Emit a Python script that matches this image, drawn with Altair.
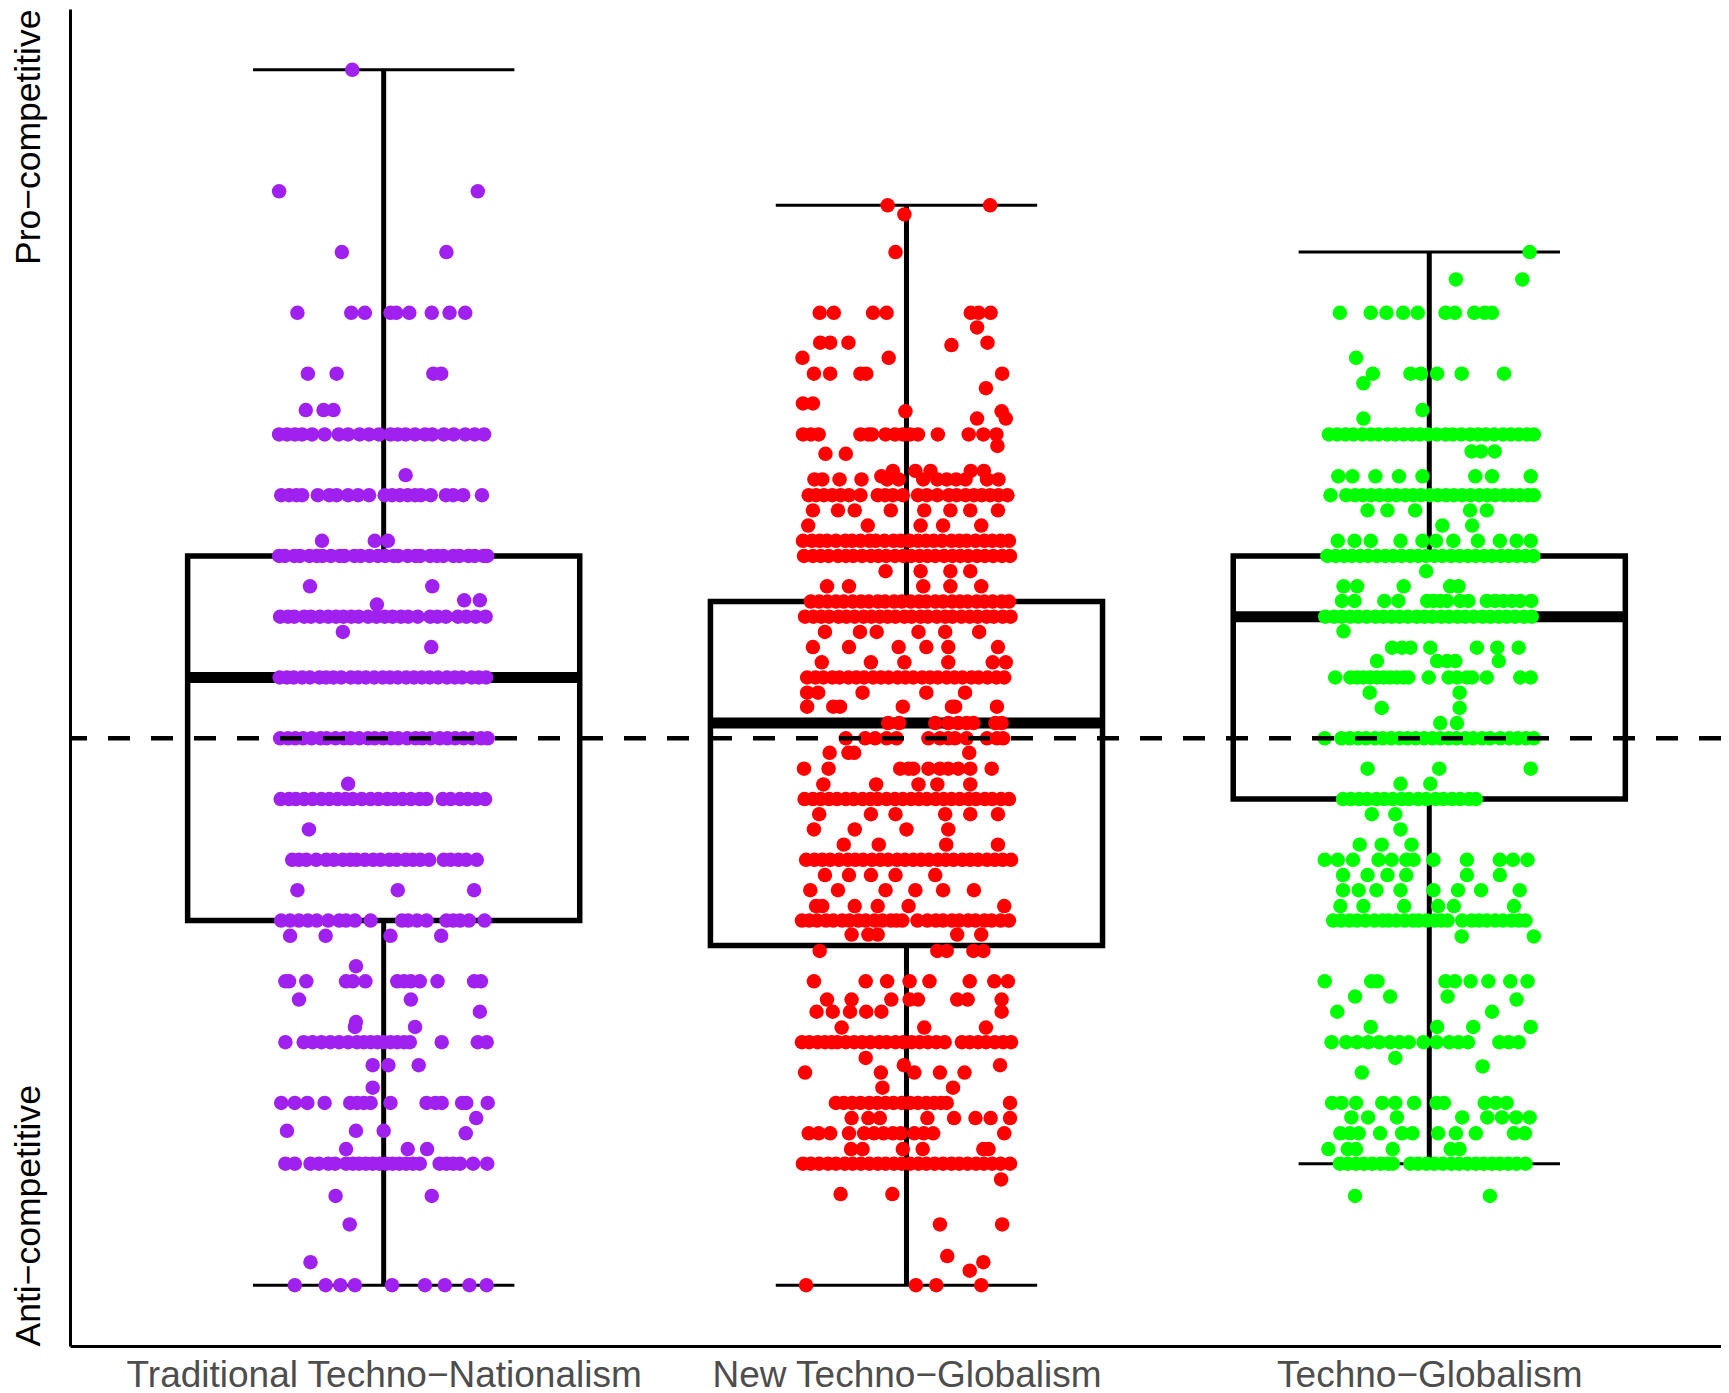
import json
import altair as alt
import pandas as pd

# ---------------- data ----------------
CATEGORIES = ["Traditional Techno−Nationalism", "New Techno−Globalism", "Techno−Globalism"]
COLORS = ["#A020F0", "#FF0000", "#00FF00"]
Y_LABELS = ["Anti−competitive", "Pro−competitive"]   # bottom, top of the scale
REFERENCE_LEVEL = [0]

# box statistics per category
BOX_LOW = [-9, -9, -7]
BOX_Q1 = [-3, -3.41, -1]
BOX_MED = [1, 0.25, 2]
BOX_Q3 = [3, 2.25, 3]
BOX_HIGH = [11, 8.77, 8]

# jittered points: score levels and horizontal jitter (hundredths of a category step)
TRAD_LEVELS = [11, 9, 8, 7, 6, 5.4, 5, 4.33, 4, 3.25, 3, 2.5, 2.27, 2.2, 2, 1.75, 1.5, 1, 0,
               -0.75, -1, -1.5, -2, -2.5, -3, -3.25, -3.75, -4, -4.3, -4.5, -4.67, -4.75, -5,
               -5.38, -5.75, -6, -6.25, -6.46, -6.5, -6.76, -7, -7.53, -8, -8.62, -9]
TRAD_OFFSETS = [
    [-6], [-20, 18], [-8, 12],
    [-16.5, -6.2, -3.6, 1.3, 2.4, 4.9, 9.2, 12.6, 15.6],
    [-14.5, -9.0, 9.5, 11.0],
    [-14.9, -11.5, -9.6],
    [-20.0, -18.5, -17.0, -15.6, -13.7, -11.3, -8.6, -6.8, -4.6, -2.8, -0.9, 1.3, 2.7, 4.2, 6.0, 7.9, 9.3, 11.5, 13.4, 15.6, 17.4, 19.2],
    [4.2],
    [-19.6, -18.1, -16.7, -15.6, -12.6, -10.4, -9.0, -6.8, -4.9, -2.8, 0.2, 1.6, 3.1, 4.6, 6.0, 7.1, 9.0, 11.9, 13.3, 15.2, 18.8],
    [-11.8, -1.7, 0.8],
    [-20.0, -18.9, -17.1, -16.0, -14.2, -12.8, -11.7, -10.1, -8.4, -7.5, -5.6, -4.4, -2.7, -1.1, 0.3, 1.9, 2.8, 4.6, 6.1, 7.0, 8.9, 10.2, 11.4, 13.3, 14.5, 16.2, 17.4, 19.1, 19.8],
    [-14.1, 9.3],
    [15.4, 18.4],
    [-1.3],
    [-19.8, -18.3, -17.1, -15.2, -13.9, -12.2, -10.6, -9.1, -7.7, -6.2, -4.8, -3.0, -1.4, 0.2, 1.7, 3.3, 4.7, 6.5, 8.9, 10.3, 11.9, 14.2, 15.8, 17.6, 19.5],
    [-7.8], [9.1],
    [-19.9, -18.5, -17.2, -15.6, -14.1, -12.3, -11.0, -9.6, -8.1, -6.3, -4.9, -3.4, -1.8, -0.2, 1.2, 2.7, 4.3, 5.8, 7.3, 8.8, 10.4, 12.1, 13.6, 15.0, 16.8, 18.2, 19.6],
    [-19.8, -18.3, -16.9, -15.4, -13.8, -12.1, -10.9, -9.2, -7.6, -6.3, -4.7, -3.0, -1.7, -0.1, 1.4, 2.8, 4.5, 6.1, 7.4, 9.0, 10.7, 12.2, 13.7, 15.3, 17.0, 18.6, 19.9],
    [-6.8],
    [-19.7, -18.1, -16.8, -15.2, -13.6, -11.9, -10.4, -8.8, -7.3, -5.9, -4.2, -2.5, -1.0, 0.7, 2.1, 3.6, 5.2, 6.9, 8.2, 11.3, 12.8, 14.6, 16.1, 17.7, 19.4],
    [-14.3],
    [-17.5, -16.2, -14.8, -12.9, -11.0, -9.5, -7.8, -6.4, -5.2, -3.6, -2.0, -0.6, 1.1, 2.5, 4.2, 5.6, 7.0, 8.7, 11.5, 12.8, 14.3, 15.8, 17.8],
    [-16.5, 2.7, 17.3],
    [-19.6, -17.9, -16.2, -14.5, -12.8, -10.6, -8.5, -7.2, -5.5, -2.5, 3.5, 4.7, 6.4, 8.2, 12.0, 13.3, 14.6, 16.3, 19.3],
    [-17.9, -11.1, 1.3, 11.0],
    [-5.3],
    [-18.8, -18.1, -14.8, -7.2, -5.9, -3.5, 2.6, 3.9, 5.2, 6.9, 10.3, 17.3, 18.6],
    [-16.2, 5.2],
    [18.4],
    [-5.3],
    [-5.5, 6.0],
    [-18.8, -15.3, -13.6, -11.9, -10.2, -8.5, -6.8, -5.1, -3.8, -2.5, -1.2, 0, 1.3, 2.6, 3.9, 5.0, 11.1, 18.0, 19.7],
    [-2.1, 0.9, 6.7],
    [-2.1],
    [-19.6, -17.0, -14.6, -11.3, -6.4, -5.1, -3.8, -2.5, 1.3, 8.2, 9.9, 11.1, 15.0, 15.8, 19.9],
    [17.7],
    [-18.5, -5.3, 0],
    [15.7],
    [-7.2, 4.6, 8.3],
    [-18.8, -17.0, -14.0, -12.4, -10.6, -9.3, -7.2, -5.9, -4.7, -3.4, -2.1, -0.8, 0.5, 1.7, 3.0, 4.3, 5.6, 6.9, 10.7, 12.0, 13.3, 14.6, 17.1, 19.8],
    [-9.2, 9.2],
    [-6.5],
    [-14.0],
    [-17.0, -11.1, -8.3, -5.5, 1.6, 7.9, 11.7, 16.4, 19.7],
]

NEW_LEVELS = [8.77, 8.62, 8, 7, 6.76, 6.51, 6.47, 6.26, 6, 5.76, 5.51, 5.38, 5.26, 5, 4.81,
              4.68, 4.4, 4.31, 4.26, 4, 3.75, 3.5, 3.25, 3, 2.75, 2.5, 2.25, 2, 1.75, 1.5,
              1.25, 1, 0.75, 0.52, 0.25, 0, -0.24, -0.5, -0.76, -1, -1.25, -1.5, -1.75, -2,
              -2.25, -2.5, -2.76, -3, -3.23, -3.5, -4, -4.3, -4.5, -4.76, -5, -5.26, -5.38,
              -5.5, -5.75, -6, -6.25, -6.5, -6.76, -7, -7.26, -7.5, -8, -8.52, -8.62, -8.76, -9]
NEW_OFFSETS = [
    [-3.6, 16.0], [-0.4], [-2.1],
    [-16.6, -13.9, -6.4, -3.8, 12.3, 13.8, 16.1],
    [13.5],
    [-16.5, -14.6, -11.1, 15.5],
    [8.6],
    [-19.9, -3.4],
    [-17.7, -14.6, -8.8, -7.7, 18.3],
    [15.2],
    [-19.8, -17.9],
    [-0.2, 18.2],
    [13.5, 19.0],
    [-19.8, -18.3, -16.8, -8.8, -7.3, -6.6, -4.0, -2.2, -0.7, 0.7, 2.2, 6.0, 11.9, 14.7, 17.2],
    [17.4],
    [-15.5, -11.6],
    [-2.6, 1.7, 4.6, 12.3, 14.8],
    [-4.8],
    [-17.6, -16.1, -12.8, -8.6, -3.7, -1.5, 3.2, 5.9, 7.7, 9.5, 11.3, 15.4, 17.6],
    [-18.7, -17.3, -15.8, -14.2, -12.6, -11.0, -8.8, -5.5, -4.1, -2.6, -0.7, 2.2, 3.9, 5.9, 8.1, 9.6, 11.3, 12.9, 14.4, 16.0, 17.6, 19.3],
    [-17.9, -13.1, -9.9, -3.0, 3.4, 8.4, 12.2, 17.5],
    [-18.8, -7.4, 2.7, 7.0, 14.3],
    [-19.8, -18.1, -16.6, -15.2, -13.5, -11.7, -10.4, -8.8, -7.1, -5.9, -4.2, -2.5, -1.1, 0.6, 2.2, 3.7, 5.2, 6.8, 8.6, 10.1, 11.5, 13.2, 14.9, 16.4, 18.0, 19.6],
    [-19.6, -17.9, -16.4, -14.9, -13.1, -11.6, -10.2, -8.5, -6.8, -5.4, -3.9, -2.2, -0.6, 0.9, 2.5, 4.0, 5.5, 7.2, 8.8, 10.3, 11.8, 13.5, 15.0, 16.6, 18.3, 19.8],
    [-4.0, 2.7, 8.4, 12.2],
    [-15.2, -11.0, 3.2, 8.4, 14.3],
    [-18.3, -16.7, -15.1, -13.5, -12.0, -10.3, -8.7, -7.2, -5.5, -4.1, -2.4, -0.9, 0.8, 2.4, 3.8, 5.5, 7.0, 8.7, 10.2, 11.7, 13.4, 14.9, 16.5, 18.2, 19.6],
    [-19.4, -17.8, -16.3, -14.8, -13.0, -11.5, -9.9, -8.2, -6.7, -5.1, -3.6, -2.1, -0.4, 1.0, 2.7, 4.1, 5.8, 7.4, 8.8, 10.5, 12.1, 13.6, 15.3, 16.7, 18.4, 19.9],
    [-15.6, -8.9, -5.7, 2.3, 7.4, 13.9],
    [-17.9, -11.0, -1.5, 3.8, 8.0, 17.5],
    [-16.2, -6.8, -0.4, 8.0, 16.5, 19.0],
    [-19.0, -17.4, -15.9, -14.2, -12.8, -11.1, -9.6, -8.1, -6.4, -4.9, -3.4, -1.7, -0.2, 1.3, 3.0, 4.5, 6.0, 7.7, 9.2, 10.7, 12.4, 13.8, 15.5, 17.2, 18.7],
    [-19.0, -16.9, -8.4, 3.8, 11.2],
    [-19.0, -14.0, -12.7, -0.7, 8.7, 9.3, 17.3],
    [-3.5, -1.4, 5.5, 8.0, 9.9, 11.5, 12.8, 17.0, 18.2],
    [-11.6, -7.9, -6.0, -3.8, -1.9, 4.2, 6.4, 8.0, 9.3, 11.5, 15.4, 17.3, 18.5],
    [-14.7, -11.1, -10.0, 12.0],
    [-19.6, -14.9, -1.2, 0.4, 1.3, 4.2, 6.4, 8.0, 9.9, 12.2, 16.3],
    [-15.9, -5.8, 2.3, 5.9, 12.2],
    [-19.5, -17.9, -16.4, -14.8, -13.3, -11.6, -10.1, -8.4, -6.9, -5.5, -3.8, -2.2, -0.7, 0.9, 2.4, 3.9, 5.6, 7.1, 8.6, 10.2, 11.9, 13.3, 15.0, 16.4, 18.1, 19.6],
    [-16.7, -6.8, -2.1, 7.4, 12.2, 17.5],
    [-17.7, -9.9, 0.0, 8.0],
    [-12.0, -5.3, 7.6, 17.5],
    [-19.2, -17.6, -16.1, -14.6, -12.9, -11.2, -9.8, -8.3, -6.6, -5.0, -3.5, -1.8, -0.3, 1.3, 2.8, 4.3, 6.0, 7.5, 9.0, 10.7, 12.2, 13.7, 15.4, 16.9, 18.4, 20.0],
    [-15.6, -11.0, -6.8, -2.1, 5.5],
    [-18.4, -13.1, -4.0, 1.7, 7.0, 12.9],
    [-17.3, -16.1, -9.9, -5.5, 0.4, 18.7],
    [-20.0, -18.6, -17.1, -15.4, -14.0, -12.3, -10.9, -9.2, -7.8, -6.1, -4.6, -3.0, -1.9, -0.8, 2.1, 4.0, 5.6, 7.0, 8.7, 10.1, 11.8, 13.2, 14.9, 16.3, 18.0, 19.6],
    [-10.5, -7.3, -5.5, 9.7, 14.3],
    [-16.6, 5.9, 7.7, 12.8, 14.7],
    [-17.7, -7.8, -3.7, 0.6, 4.4, 12.1, 16.8, 19.4],
    [-15.2, -10.5, -2.9, 0.6, 2.2, 9.7, 11.7, 18.2],
    [-17.2, -14.1, -10.8, -7.7, -4.8, 18.2],
    [-12.4, 3.4, 15.2],
    [-20.0, -18.6, -17.0, -15.6, -14.3, -13.2, -11.6, -10.0, -8.5, -6.9, -5.2, -3.8, -2.1, -0.6, 1.0, 2.5, 4.1, 5.7, 7.3, 10.6, 12.1, 13.7, 15.2, 16.9, 18.5, 20.0],
    [-7.8],
    [-0.5, 17.9],
    [-19.4, -4.9, 1.5, 6.4, 11.1],
    [-4.6, 8.9],
    [-13.5, -12.0, -10.4, -8.8, -7.1, -5.6, -4.0, -2.5, -0.9, 0.7, 2.2, 3.8, 5.3, 6.6, 7.7, 19.8],
    [-10.5, -7.3, -5.1, 4.0, 9.1, 13.2, 16.1, 19.8],
    [-18.7, -16.8, -14.6, -11.0, -8.1, -6.2, -4.4, -2.6, -1.1, 1.5, 3.3, 5.1, 18.7],
    [-10.6, -8.4, -0.7, 3.1, 14.7, 15.7],
    [-19.8, -18.3, -16.7, -15.0, -13.5, -11.8, -10.3, -8.7, -7.1, -5.5, -4.0, -2.4, -0.9, 0.7, 2.3, 3.8, 5.4, 7.0, 8.6, 10.1, 11.7, 13.3, 14.8, 16.4, 18.0, 19.8],
    [18.1],
    [-12.6, -2.7],
    [6.4, 18.3],
    [7.8],
    [14.7],
    [12.1],
    [-19.2, 1.8, 5.7, 14.3],
]

TG_LEVELS = [8, 7.55, 7, 6.26, 6, 5.84, 5.4, 5.26, 5, 4.72, 4.31, 4, 3.75, 3.5, 3.25, 3, 2.75,
             2.5, 2.26, 2, 1.76, 1.49, 1.27, 1, 0.75, 0.5, 0.25, 0, -0.5, -0.75, -1, -1.25,
             -1.5, -1.75, -2, -2.25, -2.5, -2.76, -3, -3.26, -4, -4.25, -4.3, -4.5, -4.75, -5,
             -5.26, -5.4, -5.5, -6, -6.24, -6.5, -6.76, -7, -7.53]
TG_OFFSETS = [
    [19.2],
    [5.1, 17.8],
    [-17.1, -11.2, -8.2, -5.0, -2.2, 3.1, 4.9, 8.6, 10.6, 12.0],
    [-14.0],
    [-10.8, -3.6, -1.6, 1.5, 6.2, 14.3],
    [-12.6],
    [-1.3],
    [-12.6],
    [-19.2, -17.6, -16.0, -14.5, -12.8, -11.2, -9.7, -8.0, -6.5, -4.9, -3.3, -1.8, -0.2, 1.4, 3.1, 4.5, 6.1, 7.8, 9.3, 10.8, 12.4, 14.1, 15.6, 17.1, 18.7, 20.0],
    [8.1, 9.9, 12.5],
    [-17.4, -14.7, -10.3, -5.8, -1.3, 8.8, 12.0, 19.4],
    [-18.9, -15.9, -14.2, -12.7, -11.1, -9.5, -7.8, -6.3, -4.6, -3.1, -1.6, 0.1, 1.6, 3.2, 4.7, 6.3, 7.9, 9.6, 11.1, 12.6, 14.3, 15.8, 17.3, 18.9, 20.0],
    [-11.8, -8.0, -2.7, 7.8, 11.0],
    [2.5, 8.2],
    [-17.5, -14.3, -11.2, -5.5, -1.3, 1.3, 4.6, 9.3, 13.5, 16.7, 19.4],
    [-19.5, -17.9, -16.3, -14.8, -13.2, -11.7, -10.0, -8.4, -6.9, -5.3, -3.6, -2.1, -0.6, 1.0, 2.5, 4.2, 5.8, 7.4, 8.9, 10.5, 12.0, 13.7, 15.2, 16.8, 18.4, 19.9],
    [-0.6],
    [-16.4, -13.8, -4.9, 4.0, 5.6],
    [-16.7, -14.3, -8.6, -5.9, -0.4, 0.8, 2.1, 3.4, 5.9, 7.5, 11.0, 12.6, 14.2, 15.8, 17.4, 19.5],
    [-19.9, -18.2, -16.7, -15.1, -13.6, -12.0, -10.3, -8.8, -7.2, -5.7, -4.1, -2.4, -0.9, 0.6, 2.3, 3.8, 5.4, 6.9, 8.5, 10.2, 11.7, 13.3, 14.8, 16.4, 18.1, 19.6],
    [-16.4],
    [-7.1, -5.2, -3.6, 0.2, 9.1, 13.0, 17.1],
    [-10.0, 1.5, 3.4, 5.0, 13.3],
    [-18.0, -15.1, -13.8, -12.6, -11.3, -10.0, -8.7, -7.5, -6.2, -4.9, -4.0, -0.1, 3.7, 5.3, 7.2, 8.2, 11.0, 17.4, 19.4],
    [-11.4, 5.8],
    [-9.1, 5.8],
    [2.1, 5.3],
    [-20.0, -16.8, -15.2, -13.6, -12.1, -10.4, -8.9, -7.3, -5.7, -4.2, -2.6, -1.0, 0.6, 2.1, 3.7, 5.2, 6.9, 8.4, 10.1, 11.6, 13.6, 15.3, 16.9, 18.5, 20.0],
    [-11.8, 1.9, 19.4],
    [-5.5, 0.2],
    [-16.5, -15.0, -13.4, -11.9, -10.1, -8.6, -7.0, -5.3, -3.9, -2.1, -0.6, 1.2, 2.7, 4.4, 5.9, 7.6, 8.9],
    [-11.0, -6.5],
    [-5.5],
    [-13.3, -9.1, -3.4],
    [-20.0, -17.5, -14.6, -9.7, -7.2, -4.4, -3.0, 0.8, 7.2, 13.5, 16.0, 18.8],
    [-16.5, -11.8, -8.0, -4.4, 7.2, 13.5],
    [-16.5, -13.5, -10.1, -5.5, 0.8, 5.5, 9.9, 17.3],
    [-17.0, -12.6, -4.8, 1.7, 4.7, 16.2],
    [-18.4, -16.9, -15.3, -13.8, -12.2, -10.5, -8.9, -7.8, -6.3, -4.7, -3.1, -2.0, -0.5, 1.0, 2.3, 3.5, 6.3, 8.1, 9.5, 11.0, 12.6, 14.1, 15.7, 17.1, 18.4],
    [6.2, 20.0],
    [-20.0, -11.1, -9.9, 3.1, 4.9, 7.9, 11.3, 15.5, 18.8],
    [-14.2, -7.5, 3.5],
    [16.7],
    [-17.6, 12.0],
    [-11.2, 1.5, 8.4, 19.4],
    [-18.7, -15.9, -13.8, -11.7, -9.6, -7.5, -5.7, -3.9, -1.1, 1.4, 3.8, 5.6, 7.4, 13.4, 15.2, 17.1],
    [-6.5],
    [10.2],
    [-12.9],
    [-18.6, -16.8, -14.0, -9.0, -6.5, -2.9, 1.4, 2.8, 10.6, 12.7, 14.8],
    [-14.9, -11.7, -6.2, 6.3, 11.1, 13.9, 16.6, 19.2],
    [-17.0, -15.2, -13.5, -9.4, -5.2, -3.2, 1.7, 5.1, 8.9, 16.2, 18.3],
    [-19.3, -15.6, -14.0, -7.0, 4.1, 5.8],
    [-17.1, -15.6, -14.0, -12.5, -10.9, -9.3, -7.9, -7.0, -3.6, -2.1, -0.5, 1.0, 2.6, 4.2, 5.7, 7.3, 8.9, 10.4, 12.0, 13.5, 15.1, 16.7, 18.4],
    [-14.2, 11.6],
]

# ---------------- style constants ----------------
BOX_HALF = 0.375     # half box width (category units)
CAP_HALF = 0.25      # half whisker-cap width
X_DOMAIN = [0.4, 3.558]
Y_DOMAIN = [-10, 12]
LABEL_FONT = "Liberation Sans, Arial, Helvetica, sans-serif"

# ---------------- tables ----------------
rows = []
for gi, (levels, offsets) in enumerate([(TRAD_LEVELS, TRAD_OFFSETS),
                                        (NEW_LEVELS, NEW_OFFSETS),
                                        (TG_LEVELS, TG_OFFSETS)]):
    for lv, offs in zip(levels, offsets):
        for o in offs:
            rows.append({"category": CATEGORIES[gi], "pos": gi + 1 + o / 100.0, "score": lv})
points_df = pd.DataFrame(rows)

box_df = pd.DataFrame({
    "category": CATEGORIES,
    "center": [1, 2, 3],
    "low": BOX_LOW, "q1": BOX_Q1, "med": BOX_MED, "q3": BOX_Q3, "high": BOX_HIGH,
})
ref_df = pd.DataFrame({"y": REFERENCE_LEVEL})

x_scale = alt.Scale(domain=X_DOMAIN, nice=False, zero=False)
y_scale = alt.Scale(domain=Y_DOMAIN, nice=False, zero=False)

x_label_expr = json.dumps(CATEGORIES) + "[round(datum.value) - 1]"
x_axis = alt.Axis(
    values=[1, 2, 3], labelExpr=x_label_expr, title=None, grid=False,
    ticks=False, tickSize=0, domainColor="black", domainWidth=3,
    labelFont=LABEL_FONT, labelFontSize=37, labelColor="#4D4D4D",
    labelPadding=40, labelBaseline="alphabetic", labelLimit=1000,
    labelOverlap=False, labelFlush=False,
)
y_label_expr = "datum.value > 0 ? " + json.dumps(Y_LABELS[1]) + " : " + json.dumps(Y_LABELS[0])
y_axis = alt.Axis(
    values=Y_DOMAIN, labelExpr=y_label_expr, title=None, grid=False,
    ticks=False, tickSize=0, domainColor="black", domainWidth=3,
    labelFont=LABEL_FONT, labelFontSize=35.5, labelColor="black",
    labelAngle=270, labelAlign={"expr": "datum.value > 0 ? 'right' : 'left'"},
    labelBaseline="alphabetic", labelPadding=31, labelLimit=1000,
    labelOverlap=False, labelFlush=False, labelBound=False,
)

box_base = alt.Chart(box_df).transform_calculate(
    bl=f"datum.center - {BOX_HALF}", br=f"datum.center + {BOX_HALF}",
    cl=f"datum.center - {CAP_HALF}", cr=f"datum.center + {CAP_HALF}",
)

boxes = box_base.mark_rect(fill="white", stroke="black", strokeWidth=5.5).encode(
    x=alt.X("bl:Q", scale=x_scale, axis=x_axis), x2="br:Q",
    y=alt.Y("q1:Q", scale=y_scale, axis=y_axis), y2="q3:Q",
)
whisk_up = box_base.mark_rule(color="black", strokeWidth=5).encode(
    x=alt.X("center:Q", scale=x_scale, axis=x_axis),
    y=alt.Y("q3:Q", scale=y_scale, axis=y_axis), y2="high:Q",
)
whisk_dn = box_base.mark_rule(color="black", strokeWidth=5).encode(
    x=alt.X("center:Q", scale=x_scale, axis=x_axis),
    y=alt.Y("low:Q", scale=y_scale, axis=y_axis), y2="q1:Q",
)
cap_up = box_base.mark_rule(color="black", strokeWidth=3).encode(
    x=alt.X("cl:Q", scale=x_scale, axis=x_axis), x2="cr:Q",
    y=alt.Y("high:Q", scale=y_scale, axis=y_axis),
)
cap_dn = box_base.mark_rule(color="black", strokeWidth=3).encode(
    x=alt.X("cl:Q", scale=x_scale, axis=x_axis), x2="cr:Q",
    y=alt.Y("low:Q", scale=y_scale, axis=y_axis),
)
medians = box_base.mark_rule(color="black", strokeWidth=11).encode(
    x=alt.X("bl:Q", scale=x_scale, axis=x_axis), x2="br:Q",
    y=alt.Y("med:Q", scale=y_scale, axis=y_axis),
)
pts = alt.Chart(points_df).mark_circle(size=210, opacity=1).encode(
    x=alt.X("pos:Q", scale=x_scale, axis=x_axis),
    y=alt.Y("score:Q", scale=y_scale, axis=y_axis),
    color=alt.Color("category:N", scale=alt.Scale(domain=CATEGORIES, range=COLORS), legend=None),
)
ref = alt.Chart(ref_df).mark_rule(color="black", strokeWidth=4.5, strokeDash=[22, 21]).encode(
    y=alt.Y("y:Q", scale=y_scale, axis=y_axis),
)

chart = alt.layer(boxes, whisk_up, whisk_dn, cap_up, cap_dn, medians, pts, ref).properties(
    width=1651, height=1337,
    autosize=alt.AutoSizeParams(type="none"),
    padding={"left": 62, "top": 1, "right": 0, "bottom": 47},
    background="white",
).configure_view(stroke=None)

chart.save("out.html", embed_options={"renderer": "svg", "actions": False})
